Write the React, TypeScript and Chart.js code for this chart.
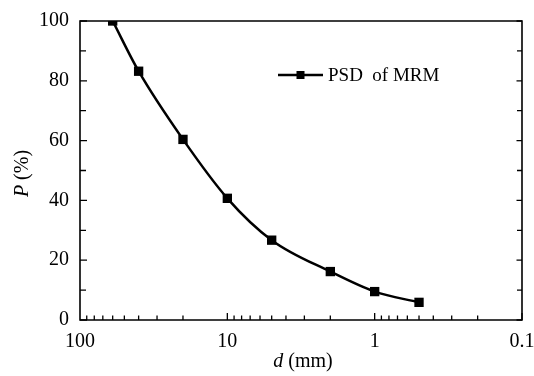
import React, { useEffect, useRef } from "react";
import { Chart, registerables } from "chart.js";

Chart.register(...registerables);

// Data
const particleSizes = [60, 40, 20, 10, 5, 2, 1, 0.5]; // d (mm)
const passingPercent = [100, 83.2, 60.4, 40.7, 26.7, 16.2, 9.5, 5.9]; // P (%)
const xMajorTicks = [100, 10, 1, 0.1];
const xTickLabels = ["100", "10", "1", "0.1"];
const yMajorTicks = [0, 20, 40, 60, 80, 100];
const seriesLabel = "PSD  of MRM";
const xTitleItalic = "d";
const xTitleRest = " (mm)";
const yTitleItalic = "P";
const yTitleRest = " (%)";

const FONT = '"Liberation Serif", "Times New Roman", serif';

const framePlugin = {
  id: "framePlugin",
  afterDraw(chart: any) {
    const { ctx, chartArea } = chart;
    const { left, right, top, bottom } = chartArea;
    const xs = chart.scales.x;
    const ys = chart.scales.y;
    ctx.save();
    ctx.strokeStyle = "#000";
    ctx.lineWidth = 1.6;
    ctx.beginPath();
    ctx.rect(left, top, right - left, bottom - top);
    ctx.stroke();

    // x ticks (inside, bottom)
    ctx.lineWidth = 1.3;
    ctx.beginPath();
    for (let e = -1; e <= 1; e++) {
      for (let k = 1; k <= 9; k++) {
        const v = k * Math.pow(10, e);
        const px = xs.getPixelForValue(v);
        const len = k === 1 ? 7 : 4.5;
        ctx.moveTo(px, bottom);
        ctx.lineTo(px, bottom - len);
      }
    }
    // y ticks (inside, left and right)
    for (let v = 0; v <= 100; v += 10) {
      const py = ys.getPixelForValue(v);
      const major = v % 20 === 0;
      ctx.moveTo(left, py);
      ctx.lineTo(left + (major ? 7 : 6), py);
      ctx.moveTo(right, py);
      ctx.lineTo(right - (major ? 5.5 : 5), py);
    }
    ctx.stroke();

    ctx.fillStyle = "#000";
    // x tick labels
    ctx.font = `20px ${FONT}`;
    ctx.textAlign = "center";
    ctx.textBaseline = "alphabetic";
    xMajorTicks.forEach((v, i) => {
      ctx.fillText(xTickLabels[i], xs.getPixelForValue(v), 347);
    });
    ctx.textAlign = "left";

    // x title
    ctx.font = `italic 20px ${FONT}`;
    const w1 = ctx.measureText(xTitleItalic).width;
    ctx.font = `20px ${FONT}`;
    const w2 = ctx.measureText(xTitleRest).width;
    const cx = (left + right) / 2 + 2;
    const sx = cx - (w1 + w2) / 2;
    ctx.font = `italic 20px ${FONT}`;
    ctx.fillText(xTitleItalic, sx, 367);
    ctx.font = `20px ${FONT}`;
    ctx.fillText(xTitleRest, sx + w1, 367);

    // y title (rotated)
    ctx.save();
    const cy = (top + bottom) / 2 + 3;
    ctx.translate(28, cy);
    ctx.rotate(-Math.PI / 2);
    ctx.font = `italic 20px ${FONT}`;
    const h1 = ctx.measureText(yTitleItalic).width;
    ctx.font = `20px ${FONT}`;
    const h2 = ctx.measureText(yTitleRest).width;
    const sy = -(h1 + h2) / 2;
    ctx.font = `italic 20px ${FONT}`;
    ctx.fillText(yTitleItalic, sy, 0);
    ctx.font = `20px ${FONT}`;
    ctx.fillText(yTitleRest, sy + h1, 0);
    ctx.restore();

    // legend
    const ly = 75;
    ctx.lineWidth = 2.5;
    ctx.beginPath();
    ctx.moveTo(278, ly);
    ctx.lineTo(323, ly);
    ctx.stroke();
    ctx.fillRect(300.5 - 4, ly - 4, 8, 8);
    ctx.font = `19px ${FONT}`;
    ctx.textBaseline = "middle";
    ctx.fillText(seriesLabel, 328, ly + 1);

    ctx.restore();
  },
};

export default function App() {
  const ref = useRef<HTMLCanvasElement | null>(null);
  useEffect(() => {
    if (!ref.current) return;
    const chart = new Chart(ref.current, {
      type: "line",
      data: {
        datasets: [
          {
            label: seriesLabel,
            data: particleSizes.map((d, i) => ({ x: d, y: passingPercent[i] })),
            borderColor: "#000",
            backgroundColor: "#000",
            borderWidth: 2.5,
            pointStyle: "rect",
            pointRadius: 6.6,
            pointHoverRadius: 6.6,
            pointBorderWidth: 0,
            cubicInterpolationMode: "monotone",
            fill: false,
          },
        ],
      },
      options: {
        responsive: false,
        animation: false,
        devicePixelRatio: 1,
        layout: { padding: { left: 0, top: 21, right: 12, bottom: 0 } },
        plugins: {
          legend: { display: false },
          tooltip: { enabled: false },
          title: { display: false },
        },
        scales: {
          x: {
            type: "logarithmic",
            reverse: true,
            min: 0.1,
            max: 100,
            grid: { display: false, drawTicks: false },
            border: { display: false },
            afterBuildTicks: (scale: any) => {
              scale.ticks = xMajorTicks.map((v) => ({ value: v, major: true }));
            },
            afterFit: (scale: any) => {
              scale.height = 56;
              scale.paddingLeft = 0;
              scale.paddingRight = 0;
            },
            ticks: { display: false },
          },
          y: {
            type: "linear",
            min: 0,
            max: 100,
            grid: { display: false, drawTicks: false },
            border: { display: false },
            afterBuildTicks: (scale: any) => {
              scale.ticks = yMajorTicks.map((v) => ({ value: v }));
            },
            afterFit: (scale: any) => {
              scale.width = 80;
              scale.paddingTop = 0;
              scale.paddingBottom = 0;
            },
            ticks: {
              padding: 11,
              color: "#000",
              font: { family: FONT, size: 20 },
            },
          },
        },
      },
      plugins: [framePlugin],
    });
    return () => chart.destroy();
  }, []);
  return (
    <div style={{ position: "fixed", left: 0, top: 0, width: 534, height: 376, background: "#fff" }}>
      <canvas ref={ref} width={534} height={376} />
    </div>
  );
}
